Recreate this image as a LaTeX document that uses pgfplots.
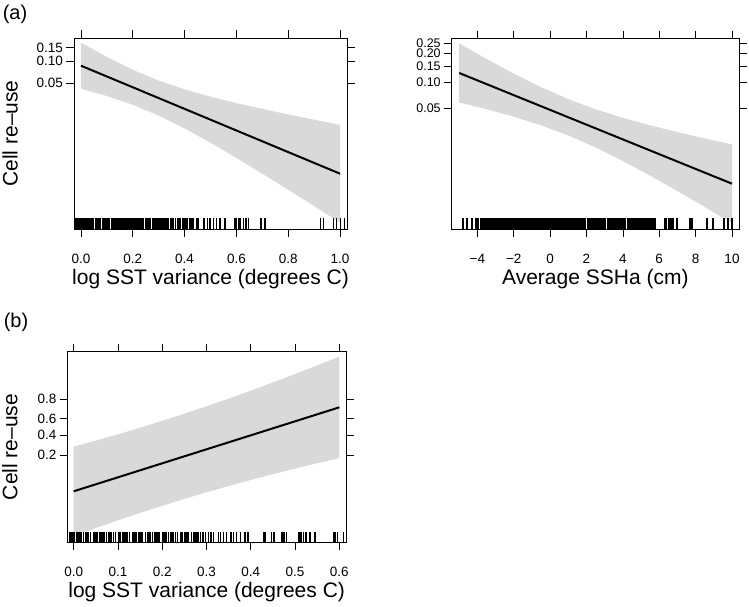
\documentclass[border=0pt]{standalone}
\usepackage{fontspec}
\setmainfont{Liberation Sans}
\usepackage{pgfplots}
\pgfplotsset{compat=1.18}
\usepackage{pgfplotstable}

\definecolor{band}{gray}{0.85}

% fitted lines (logit scale)
\pgfplotstableread{
x fit
0.0 -2.347
1.0 -6.033
}\fitA
\pgfplotstableread{
x fit
-5.0 -1.938
10.0 -5.092
}\fitB
\pgfplotstableread{
x fit
0.00 -3.167
0.60 0.970
}\fitC

% confidence bands: upper edge left to right, then lower edge right to left
\pgfplotstableread{
x y
0.0 -1.562
0.1 -2.050
0.2 -2.487
0.3 -2.856
0.4 -3.155
0.5 -3.405
0.6 -3.623
0.7 -3.822
0.8 -4.010
0.9 -4.190
1.0 -4.366
1.0 -7.700
0.9 -7.138
0.8 -6.582
0.7 -6.032
0.6 -5.495
0.5 -4.975
0.4 -4.487
0.3 -4.050
0.2 -3.681
0.1 -3.382
0.0 -3.132
}\bandA

\pgfplotstableread{
x y
-5.0 -1.098
-3.5 -1.536
-2.0 -1.955
-0.5 -2.341
1.0 -2.683
2.5 -2.972
4.0 -3.217
5.5 -3.429
7.0 -3.621
8.5 -3.801
10.0 -3.972
10.0 -6.212
8.5 -5.753
7.0 -5.301
5.5 -4.863
4.0 -4.445
2.5 -4.058
1.0 -3.717
-0.5 -3.427
-2.0 -3.183
-3.5 -2.970
-5.0 -2.778
}\bandB

\pgfplotstableread{
x y
0.00 -0.967
0.06 -0.608
0.12 -0.232
0.18 0.166
0.24 0.583
0.30 1.020
0.36 1.476
0.42 1.951
0.48 2.443
0.54 2.949
0.60 3.470
0.60 -1.530
0.54 -1.837
0.48 -2.157
0.42 -2.493
0.36 -2.846
0.30 -3.216
0.24 -3.607
0.18 -4.018
0.12 -4.448
0.06 -4.898
0.00 -5.367
}\bandC

\pgfplotsset{
  rplot/.style={
    scale only axis,
    axis line style={line width=0.7pt},
    tick align=outside,
    tick pos=both,
    major tick length=7.5pt,
    every tick/.style={black, line width=0.7pt},
    tick label style={font=\fontsize{13.5}{15}\selectfont},
    xticklabel style={anchor=center, yshift=-22pt},
    label style={font=\fontsize{21}{24}\selectfont},
  },
  rug/.style={only marks, mark=|, mark size=#1, mark options={line width=1.4pt}, black},
}

\begin{document}
\begin{tikzpicture}
\path[use as bounding box] (0,0) rectangle (749pt,-606pt);

\node[font=\fontsize{20}{22}\selectfont] at (15pt,-14pt) {(a)};
\node[font=\fontsize{20}{22}\selectfont] at (16pt,-322pt) {(b)};

% (a) left: SST variance
\begin{axis}[rplot,
  at={(74pt,-229pt)}, anchor=south west, width=273pt, height=191pt,
  xmin=-0.027, xmax=1.027, ymin=-7.921, ymax=-1.402,
  xtick={0,0.2,0.4,0.6,0.8,1}, xticklabels={0.0,0.2,0.4,0.6,0.8,1.0},
  ytick={-2.944,-2.197,-1.735}, yticklabels={0.05,0.10,0.15},
  xlabel={log SST variance (degrees C)}, ylabel={Cell re–use},
  xlabel style={at={(axis description cs:0.5,-0.2618)}, anchor=center},
  ylabel style={at={(axis description cs:-0.234,0.5)}, anchor=center},
]
\addplot[fill=band, draw=none] table[x=x, y=y] {\bandA};
\addplot[black, line width=2pt] table[x=x, y=fit] {\fitA};
\addplot[rug=5.3pt] coordinates {
(-0.020,-7.74) (-0.016,-7.74) (-0.012,-7.74) (-0.008,-7.74) (-0.004,-7.74) (0.000,-7.74) (0.004,-7.74) (0.008,-7.74) (0.012,-7.74) (0.016,-7.74) (0.020,-7.74) (0.024,-7.74) (0.028,-7.74) (0.032,-7.74) (0.036,-7.74) (0.040,-7.74) (0.044,-7.74) (0.048,-7.74)
(0.055,-7.74) (0.060,-7.74) (0.066,-7.74) (0.070,-7.74) (0.076,-7.74) (0.082,-7.74) (0.086,-7.74) (0.092,-7.74) (0.100,-7.74) (0.104,-7.74) (0.110,-7.74) (0.118,-7.74) (0.124,-7.74)
(0.130,-7.74) (0.134,-7.74) (0.138,-7.74) (0.142,-7.74) (0.146,-7.74) (0.150,-7.74) (0.154,-7.74) (0.158,-7.74) (0.162,-7.74) (0.166,-7.74) (0.170,-7.74) (0.174,-7.74) (0.178,-7.74) (0.182,-7.74) (0.186,-7.74) (0.190,-7.74) (0.196,-7.74) (0.200,-7.74) (0.204,-7.74) (0.208,-7.74) (0.212,-7.74) (0.218,-7.74) (0.222,-7.74) (0.226,-7.74) (0.230,-7.74) (0.236,-7.74)
(0.242,-7.74) (0.248,-7.74) (0.252,-7.74) (0.258,-7.74) (0.262,-7.74) (0.268,-7.74) (0.275,-7.74) (0.280,-7.74) (0.286,-7.74) (0.292,-7.74) (0.298,-7.74) (0.305,-7.74) (0.312,-7.74) (0.318,-7.74) (0.325,-7.74) (0.332,-7.74) (0.338,-7.74) (0.345,-7.74) (0.352,-7.74) (0.358,-7.74) (0.364,-7.74) (0.372,-7.74) (0.378,-7.74) (0.385,-7.74) (0.392,-7.74) (0.398,-7.74) (0.405,-7.74) (0.412,-7.74) (0.418,-7.74) (0.425,-7.74) (0.432,-7.74) (0.445,-7.74) (0.452,-7.74)
(0.475,-7.74) (0.488,-7.74) (0.498,-7.74) (0.511,-7.74) (0.524,-7.74) (0.537,-7.74) (0.556,-7.74) (0.595,-7.74) (0.601,-7.74) (0.608,-7.74) (0.614,-7.74) (0.627,-7.74) (0.637,-7.74) (0.646,-7.74) (0.695,-7.74) (0.711,-7.74) (0.924,-7.74) (0.937,-7.74) (0.975,-7.74) (0.986,-7.74) (1.001,-7.74) (1.017,-7.74)
};
\end{axis}

% (a) right: SSHa
\begin{axis}[rplot,
  at={(451.7pt,-229.3pt)}, anchor=south west, width=287.3pt, height=191pt,
  xmin=-5.41, xmax=10.385, ymin=-6.391, ymax=-0.950,
  xtick={-4,-2,0,2,4,6,8,10}, xticklabels={−4,−2,0,2,4,6,8,10},
  ytick={-2.944,-2.197,-1.735,-1.386,-1.099}, yticklabels={0.05,0.10,0.15,0.20,0.25},
  yticklabel style={font=\fontsize{12.5}{12}\selectfont},
  xlabel={Average SSHa (cm)},
  xlabel style={at={(axis description cs:0.5,-0.26)}, anchor=center},
]
\addplot[fill=band, draw=none] table[x=x, y=y] {\bandB};
\addplot[black, line width=2pt] table[x=x, y=fit] {\fitB};
\addplot[rug=5.5pt, mark options={line width=1.8pt}] coordinates {
(-4.81,-6.234) (-4.59,-6.234) (-4.31,-6.234) (-4.07,-6.234) (-3.98,-6.234) (-3.78,-6.234) (-3.68,-6.234) (-3.60,-6.234) (-3.50,-6.234) (-3.42,-6.234) (-3.30,-6.234) (-3.22,-6.234) (-3.12,-6.234) (-3.05,-6.234) (-2.95,-6.234) (-2.88,-6.234) (-2.80,-6.234) (-2.70,-6.234) (-2.62,-6.234) (-2.55,-6.234) (-2.45,-6.234) (-2.35,-6.234) (-2.28,-6.234) (-2.18,-6.234) (-2.10,-6.234) (-2.02,-6.234)
(-1.95,-6.234) (-1.85,-6.234) (-1.75,-6.234) (-1.65,-6.234) (-1.55,-6.234) (-1.45,-6.234) (-1.35,-6.234) (-1.25,-6.234) (-1.15,-6.234) (-1.05,-6.234) (-0.95,-6.234) (-0.85,-6.234) (-0.75,-6.234) (-0.65,-6.234) (-0.55,-6.234) (-0.45,-6.234) (-0.35,-6.234) (-0.25,-6.234) (-0.15,-6.234) (-0.05,-6.234)
(0.05,-6.234) (0.15,-6.234) (0.25,-6.234) (0.35,-6.234) (0.45,-6.234) (0.55,-6.234) (0.65,-6.234) (0.75,-6.234) (0.85,-6.234) (0.95,-6.234) (1.05,-6.234) (1.15,-6.234) (1.25,-6.234) (1.35,-6.234) (1.45,-6.234) (1.55,-6.234) (1.65,-6.234) (1.75,-6.234) (1.85,-6.234) (1.95,-6.234)
(2.05,-6.234) (2.15,-6.234) (2.25,-6.234) (2.35,-6.234) (2.45,-6.234) (2.55,-6.234) (2.65,-6.234) (2.75,-6.234) (2.85,-6.234) (2.95,-6.234) (3.05,-6.234) (3.15,-6.234) (3.25,-6.234) (3.35,-6.234) (3.45,-6.234) (3.55,-6.234) (3.65,-6.234) (3.75,-6.234) (3.85,-6.234) (3.95,-6.234)
(4.05,-6.234) (4.15,-6.234) (4.25,-6.234) (4.35,-6.234) (4.45,-6.234) (4.55,-6.234) (4.65,-6.234) (4.75,-6.234) (4.85,-6.234) (4.95,-6.234) (5.05,-6.234) (5.15,-6.234) (5.25,-6.234) (5.35,-6.234) (5.45,-6.234) (5.55,-6.234) (5.65,-6.234) (5.75,-6.234)
(6.31,-6.234) (6.40,-6.234) (6.53,-6.234) (6.64,-6.234) (6.76,-6.234) (6.98,-6.234) (7.67,-6.234) (7.82,-6.234) (8.62,-6.234) (8.95,-6.234) (9.58,-6.234) (9.76,-6.234) (9.98,-6.234)
};
\end{axis}

% (b)
\begin{axis}[rplot,
  at={(67.3pt,-542.3pt)}, anchor=south west, width=278.7pt, height=190.6pt,
  xmin=-0.0145, xmax=0.615, ymin=-5.68, ymax=3.709,
  xtick={0,0.1,0.2,0.3,0.4,0.5,0.6}, xticklabels={0.0,0.1,0.2,0.3,0.4,0.5,0.6},
  ytick={-1.386,-0.405,0.405,1.386}, yticklabels={0.2,0.4,0.6,0.8},
  xlabel={log SST variance (degrees C)}, ylabel={Cell re–use},
  xlabel style={at={(axis description cs:0.5,-0.259)}, anchor=center},
  ylabel style={at={(axis description cs:-0.206,0.5)}, anchor=center},
]
\addplot[fill=band, draw=none] table[x=x, y=y] {\bandC};
\addplot[black, line width=2pt] table[x=x, y=fit] {\fitC};
\addplot[rug=5pt] coordinates {
(-0.014,-5.434) (-0.010,-5.434) (-0.006,-5.434) (-0.002,-5.434) (0.002,-5.434) (0.006,-5.434) (0.010,-5.434) (0.014,-5.434) (0.018,-5.434) (0.022,-5.434) (0.026,-5.434) (0.030,-5.434) (0.034,-5.434) (0.038,-5.434) (0.046,-5.434) (0.050,-5.434) (0.054,-5.434) (0.058,-5.434) (0.062,-5.434) (0.066,-5.434) (0.070,-5.434) (0.074,-5.434) (0.078,-5.434) (0.082,-5.434) (0.086,-5.434) (0.090,-5.434) (0.094,-5.434)
(0.102,-5.434) (0.106,-5.434) (0.110,-5.434) (0.114,-5.434) (0.118,-5.434) (0.122,-5.434) (0.126,-5.434) (0.134,-5.434) (0.138,-5.434) (0.142,-5.434) (0.146,-5.434) (0.150,-5.434) (0.154,-5.434) (0.162,-5.434) (0.166,-5.434) (0.170,-5.434) (0.174,-5.434) (0.178,-5.434) (0.182,-5.434) (0.186,-5.434) (0.190,-5.434) (0.194,-5.434)
(0.202,-5.434) (0.206,-5.434) (0.210,-5.434) (0.214,-5.434) (0.218,-5.434) (0.222,-5.434) (0.226,-5.434) (0.230,-5.434) (0.234,-5.434) (0.242,-5.434) (0.246,-5.434) (0.250,-5.434) (0.254,-5.434) (0.258,-5.434) (0.266,-5.434) (0.270,-5.434) (0.274,-5.434) (0.278,-5.434) (0.282,-5.434) (0.286,-5.434)
(0.292,-5.434) (0.298,-5.434) (0.304,-5.434) (0.310,-5.434) (0.316,-5.434) (0.327,-5.434) (0.332,-5.434) (0.338,-5.434) (0.345,-5.434) (0.355,-5.434) (0.361,-5.434) (0.368,-5.434) (0.377,-5.434) (0.387,-5.434) (0.394,-5.434) (0.428,-5.434) (0.432,-5.434) (0.447,-5.434) (0.452,-5.434)
(0.470,-5.434) (0.475,-5.434) (0.480,-5.434) (0.508,-5.434) (0.511,-5.434) (0.515,-5.434) (0.519,-5.434) (0.525,-5.434) (0.534,-5.434) (0.545,-5.434) (0.587,-5.434) (0.590,-5.434) (0.596,-5.434) (0.610,-5.434)
};
\end{axis}
\end{tikzpicture}
\end{document}
